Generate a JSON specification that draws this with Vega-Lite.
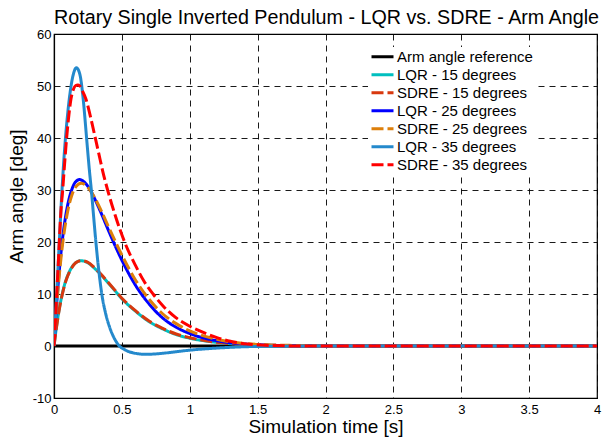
{
  "$schema": "https://vega.github.io/schema/vega-lite/v6.json",
  "width": 543,
  "height": 364,
  "autosize": {"type": "none"},
  "padding": {"left": 54, "top": 34, "right": 5, "bottom": 39},
  "background": "white",
  "title": {
    "text": "Rotary Single Inverted Pendulum - LQR vs. SDRE - Arm Angle",
    "anchor": "middle",
    "frame": "group",
    "dx": 1,
    "offset": 0,
    "font": "Liberation Sans",
    "fontSize": 19.7,
    "fontWeight": "normal",
    "color": "black"
  },
  "config": {
    "view": {"stroke": "black", "strokeWidth": 1.2},
    "axis": {
      "labelFont": "Liberation Sans",
      "labelFontSize": 13,
      "labelColor": "black",
      "titleFont": "Liberation Sans",
      "titleFontSize": 19,
      "titleFontWeight": "normal",
      "titleColor": "black",
      "domainColor": "black",
      "domainWidth": 1.2,
      "ticks": false,
      "labelFlush": false,
      "gridColor": "black",
      "gridDash": [6, 5],
      "gridWidth": 0.9,
      "gridOpacity": 1
    }
  },
  "data": {
    "values": [
      {"s": "Arm angle reference", "t": 0, "v": 0},
      {"s": "Arm angle reference", "t": 4, "v": 0},

      {"s": "LQR - 15 degrees", "t": 0, "v": 0},
      {"s": "LQR - 15 degrees", "t": 0.02, "v": 4.0},
      {"s": "LQR - 15 degrees", "t": 0.04, "v": 7.3},
      {"s": "LQR - 15 degrees", "t": 0.06, "v": 9.9},
      {"s": "LQR - 15 degrees", "t": 0.08, "v": 12.0},
      {"s": "LQR - 15 degrees", "t": 0.1, "v": 13.5},
      {"s": "LQR - 15 degrees", "t": 0.13, "v": 15.1},
      {"s": "LQR - 15 degrees", "t": 0.16, "v": 16.0},
      {"s": "LQR - 15 degrees", "t": 0.2, "v": 16.4},
      {"s": "LQR - 15 degrees", "t": 0.25, "v": 16.0},
      {"s": "LQR - 15 degrees", "t": 0.3, "v": 14.9},
      {"s": "LQR - 15 degrees", "t": 0.35, "v": 13.6},
      {"s": "LQR - 15 degrees", "t": 0.4, "v": 12.1},
      {"s": "LQR - 15 degrees", "t": 0.45, "v": 10.6},
      {"s": "LQR - 15 degrees", "t": 0.5, "v": 9.1},
      {"s": "LQR - 15 degrees", "t": 0.6, "v": 6.7},
      {"s": "LQR - 15 degrees", "t": 0.7, "v": 4.7},
      {"s": "LQR - 15 degrees", "t": 0.8, "v": 3.3},
      {"s": "LQR - 15 degrees", "t": 0.9, "v": 2.2},
      {"s": "LQR - 15 degrees", "t": 1.0, "v": 1.5},
      {"s": "LQR - 15 degrees", "t": 1.2, "v": 0.7},
      {"s": "LQR - 15 degrees", "t": 1.4, "v": 0.3},
      {"s": "LQR - 15 degrees", "t": 1.6, "v": 0.1},
      {"s": "LQR - 15 degrees", "t": 2.0, "v": 0},
      {"s": "LQR - 15 degrees", "t": 4.0, "v": 0},

      {"s": "SDRE - 15 degrees", "t": 0, "v": 0},
      {"s": "SDRE - 15 degrees", "t": 0.02, "v": 3.9},
      {"s": "SDRE - 15 degrees", "t": 0.04, "v": 7.2},
      {"s": "SDRE - 15 degrees", "t": 0.06, "v": 9.8},
      {"s": "SDRE - 15 degrees", "t": 0.08, "v": 11.9},
      {"s": "SDRE - 15 degrees", "t": 0.1, "v": 13.4},
      {"s": "SDRE - 15 degrees", "t": 0.13, "v": 15.0},
      {"s": "SDRE - 15 degrees", "t": 0.16, "v": 16.0},
      {"s": "SDRE - 15 degrees", "t": 0.2, "v": 16.4},
      {"s": "SDRE - 15 degrees", "t": 0.25, "v": 16.1},
      {"s": "SDRE - 15 degrees", "t": 0.3, "v": 15.0},
      {"s": "SDRE - 15 degrees", "t": 0.35, "v": 13.7},
      {"s": "SDRE - 15 degrees", "t": 0.4, "v": 12.2},
      {"s": "SDRE - 15 degrees", "t": 0.45, "v": 10.7},
      {"s": "SDRE - 15 degrees", "t": 0.5, "v": 9.2},
      {"s": "SDRE - 15 degrees", "t": 0.6, "v": 6.8},
      {"s": "SDRE - 15 degrees", "t": 0.7, "v": 4.8},
      {"s": "SDRE - 15 degrees", "t": 0.8, "v": 3.4},
      {"s": "SDRE - 15 degrees", "t": 0.9, "v": 2.3},
      {"s": "SDRE - 15 degrees", "t": 1.0, "v": 1.6},
      {"s": "SDRE - 15 degrees", "t": 1.2, "v": 0.7},
      {"s": "SDRE - 15 degrees", "t": 1.4, "v": 0.3},
      {"s": "SDRE - 15 degrees", "t": 1.6, "v": 0.1},
      {"s": "SDRE - 15 degrees", "t": 2.0, "v": 0},
      {"s": "SDRE - 15 degrees", "t": 4.0, "v": 0},

      {"s": "LQR - 25 degrees", "t": 0, "v": 0},
      {"s": "LQR - 25 degrees", "t": 0.02, "v": 8.2},
      {"s": "LQR - 25 degrees", "t": 0.04, "v": 14.8},
      {"s": "LQR - 25 degrees", "t": 0.06, "v": 20.0},
      {"s": "LQR - 25 degrees", "t": 0.08, "v": 24.0},
      {"s": "LQR - 25 degrees", "t": 0.1, "v": 27.0},
      {"s": "LQR - 25 degrees", "t": 0.13, "v": 30.0},
      {"s": "LQR - 25 degrees", "t": 0.16, "v": 31.6},
      {"s": "LQR - 25 degrees", "t": 0.19, "v": 32.0},
      {"s": "LQR - 25 degrees", "t": 0.22, "v": 31.6},
      {"s": "LQR - 25 degrees", "t": 0.25, "v": 30.7},
      {"s": "LQR - 25 degrees", "t": 0.3, "v": 28.3},
      {"s": "LQR - 25 degrees", "t": 0.35, "v": 25.4},
      {"s": "LQR - 25 degrees", "t": 0.4, "v": 22.3},
      {"s": "LQR - 25 degrees", "t": 0.45, "v": 19.3},
      {"s": "LQR - 25 degrees", "t": 0.5, "v": 16.5},
      {"s": "LQR - 25 degrees", "t": 0.6, "v": 11.7},
      {"s": "LQR - 25 degrees", "t": 0.7, "v": 8.1},
      {"s": "LQR - 25 degrees", "t": 0.8, "v": 5.4},
      {"s": "LQR - 25 degrees", "t": 0.9, "v": 3.6},
      {"s": "LQR - 25 degrees", "t": 1.0, "v": 2.4},
      {"s": "LQR - 25 degrees", "t": 1.2, "v": 1.0},
      {"s": "LQR - 25 degrees", "t": 1.4, "v": 0.4},
      {"s": "LQR - 25 degrees", "t": 1.6, "v": 0.15},
      {"s": "LQR - 25 degrees", "t": 1.8, "v": 0.05},
      {"s": "LQR - 25 degrees", "t": 2.0, "v": 0},
      {"s": "LQR - 25 degrees", "t": 4.0, "v": 0},

      {"s": "SDRE - 25 degrees", "t": 0, "v": 0},
      {"s": "SDRE - 25 degrees", "t": 0.02, "v": 7.7},
      {"s": "SDRE - 25 degrees", "t": 0.04, "v": 13.9},
      {"s": "SDRE - 25 degrees", "t": 0.06, "v": 18.9},
      {"s": "SDRE - 25 degrees", "t": 0.08, "v": 22.8},
      {"s": "SDRE - 25 degrees", "t": 0.1, "v": 25.8},
      {"s": "SDRE - 25 degrees", "t": 0.13, "v": 28.9},
      {"s": "SDRE - 25 degrees", "t": 0.16, "v": 30.6},
      {"s": "SDRE - 25 degrees", "t": 0.2, "v": 31.3},
      {"s": "SDRE - 25 degrees", "t": 0.25, "v": 30.5},
      {"s": "SDRE - 25 degrees", "t": 0.3, "v": 28.5},
      {"s": "SDRE - 25 degrees", "t": 0.35, "v": 25.9},
      {"s": "SDRE - 25 degrees", "t": 0.4, "v": 23.0},
      {"s": "SDRE - 25 degrees", "t": 0.45, "v": 20.2},
      {"s": "SDRE - 25 degrees", "t": 0.5, "v": 17.5},
      {"s": "SDRE - 25 degrees", "t": 0.6, "v": 12.7},
      {"s": "SDRE - 25 degrees", "t": 0.7, "v": 9.0},
      {"s": "SDRE - 25 degrees", "t": 0.8, "v": 6.2},
      {"s": "SDRE - 25 degrees", "t": 0.9, "v": 4.3},
      {"s": "SDRE - 25 degrees", "t": 1.0, "v": 2.9},
      {"s": "SDRE - 25 degrees", "t": 1.2, "v": 1.3},
      {"s": "SDRE - 25 degrees", "t": 1.4, "v": 0.5},
      {"s": "SDRE - 25 degrees", "t": 1.6, "v": 0.2},
      {"s": "SDRE - 25 degrees", "t": 1.8, "v": 0.1},
      {"s": "SDRE - 25 degrees", "t": 2.0, "v": 0},
      {"s": "SDRE - 25 degrees", "t": 4.0, "v": 0},

      {"s": "LQR - 35 degrees", "t": 0, "v": 0},
      {"s": "LQR - 35 degrees", "t": 0.02, "v": 10},
      {"s": "LQR - 35 degrees", "t": 0.04, "v": 20.5},
      {"s": "LQR - 35 degrees", "t": 0.06, "v": 30.5},
      {"s": "LQR - 35 degrees", "t": 0.08, "v": 38.5},
      {"s": "LQR - 35 degrees", "t": 0.1, "v": 44.5},
      {"s": "LQR - 35 degrees", "t": 0.12, "v": 49},
      {"s": "LQR - 35 degrees", "t": 0.14, "v": 52},
      {"s": "LQR - 35 degrees", "t": 0.165, "v": 53.5},
      {"s": "LQR - 35 degrees", "t": 0.19, "v": 52.3},
      {"s": "LQR - 35 degrees", "t": 0.215, "v": 47.5},
      {"s": "LQR - 35 degrees", "t": 0.24, "v": 40},
      {"s": "LQR - 35 degrees", "t": 0.26, "v": 34},
      {"s": "LQR - 35 degrees", "t": 0.275, "v": 30},
      {"s": "LQR - 35 degrees", "t": 0.29, "v": 25.5},
      {"s": "LQR - 35 degrees", "t": 0.305, "v": 21},
      {"s": "LQR - 35 degrees", "t": 0.33, "v": 14.5},
      {"s": "LQR - 35 degrees", "t": 0.355, "v": 9.5},
      {"s": "LQR - 35 degrees", "t": 0.38, "v": 6.3},
      {"s": "LQR - 35 degrees", "t": 0.41, "v": 3.6},
      {"s": "LQR - 35 degrees", "t": 0.44, "v": 1.7},
      {"s": "LQR - 35 degrees", "t": 0.475, "v": 0.2},
      {"s": "LQR - 35 degrees", "t": 0.52, "v": -0.7},
      {"s": "LQR - 35 degrees", "t": 0.58, "v": -1.3},
      {"s": "LQR - 35 degrees", "t": 0.68, "v": -1.6},
      {"s": "LQR - 35 degrees", "t": 0.8, "v": -1.4},
      {"s": "LQR - 35 degrees", "t": 0.9, "v": -1.1},
      {"s": "LQR - 35 degrees", "t": 1.0, "v": -0.8},
      {"s": "LQR - 35 degrees", "t": 1.2, "v": -0.4},
      {"s": "LQR - 35 degrees", "t": 1.4, "v": -0.15},
      {"s": "LQR - 35 degrees", "t": 1.6, "v": -0.05},
      {"s": "LQR - 35 degrees", "t": 2.0, "v": 0},
      {"s": "LQR - 35 degrees", "t": 4.0, "v": 0},

      {"s": "SDRE - 35 degrees", "t": 0, "v": 0},
      {"s": "SDRE - 35 degrees", "t": 0.01, "v": 4.5},
      {"s": "SDRE - 35 degrees", "t": 0.02, "v": 10},
      {"s": "SDRE - 35 degrees", "t": 0.03, "v": 15},
      {"s": "SDRE - 35 degrees", "t": 0.04, "v": 20.5},
      {"s": "SDRE - 35 degrees", "t": 0.05, "v": 25.5},
      {"s": "SDRE - 35 degrees", "t": 0.064, "v": 30},
      {"s": "SDRE - 35 degrees", "t": 0.078, "v": 35},
      {"s": "SDRE - 35 degrees", "t": 0.093, "v": 40},
      {"s": "SDRE - 35 degrees", "t": 0.11, "v": 44.5},
      {"s": "SDRE - 35 degrees", "t": 0.125, "v": 47.5},
      {"s": "SDRE - 35 degrees", "t": 0.142, "v": 49.3},
      {"s": "SDRE - 35 degrees", "t": 0.16, "v": 50.1},
      {"s": "SDRE - 35 degrees", "t": 0.175, "v": 50.2},
      {"s": "SDRE - 35 degrees", "t": 0.19, "v": 50},
      {"s": "SDRE - 35 degrees", "t": 0.21, "v": 49},
      {"s": "SDRE - 35 degrees", "t": 0.235, "v": 47.5},
      {"s": "SDRE - 35 degrees", "t": 0.265, "v": 44.5},
      {"s": "SDRE - 35 degrees", "t": 0.3, "v": 40.5},
      {"s": "SDRE - 35 degrees", "t": 0.33, "v": 37},
      {"s": "SDRE - 35 degrees", "t": 0.36, "v": 33.5},
      {"s": "SDRE - 35 degrees", "t": 0.395, "v": 30},
      {"s": "SDRE - 35 degrees", "t": 0.45, "v": 25.2},
      {"s": "SDRE - 35 degrees", "t": 0.52, "v": 20},
      {"s": "SDRE - 35 degrees", "t": 0.6, "v": 15.5},
      {"s": "SDRE - 35 degrees", "t": 0.66, "v": 12.6},
      {"s": "SDRE - 35 degrees", "t": 0.73, "v": 10},
      {"s": "SDRE - 35 degrees", "t": 0.8, "v": 7.8},
      {"s": "SDRE - 35 degrees", "t": 0.9, "v": 5.4},
      {"s": "SDRE - 35 degrees", "t": 1.0, "v": 3.8},
      {"s": "SDRE - 35 degrees", "t": 1.1, "v": 2.6},
      {"s": "SDRE - 35 degrees", "t": 1.2, "v": 1.6},
      {"s": "SDRE - 35 degrees", "t": 1.3, "v": 0.9},
      {"s": "SDRE - 35 degrees", "t": 1.42, "v": 0.4},
      {"s": "SDRE - 35 degrees", "t": 1.6, "v": 0.1},
      {"s": "SDRE - 35 degrees", "t": 1.8, "v": 0},
      {"s": "SDRE - 35 degrees", "t": 4.0, "v": 0}
    ]
  },
  "mark": {"type": "line", "strokeWidth": 3, "interpolate": "monotone", "clip": true},
  "encoding": {
    "x": {
      "field": "t",
      "type": "quantitative",
      "scale": {"domain": [0, 4], "nice": false, "zero": false},
      "axis": {
        "title": "Simulation time [s]",
        "values": [0, 0.5, 1, 1.5, 2, 2.5, 3, 3.5, 4],
        "format": "~g",
        "labelPadding": 5,
        "titlePadding": 1
      }
    },
    "y": {
      "field": "v",
      "type": "quantitative",
      "scale": {"domain": [-10, 60], "nice": false, "zero": false},
      "axis": {
        "title": "Arm angle [deg]",
        "values": [-10, 0, 10, 20, 30, 40, 50, 60],
        "labelExpr": "replace(datum.label, '\u2212', '-')",
        "labelPadding": 3,
        "titlePadding": 6,
        "titleY": 162
      }
    },
    "color": {
      "field": "s",
      "type": "nominal",
      "scale": {
        "domain": ["Arm angle reference", "LQR - 15 degrees", "SDRE - 15 degrees", "LQR - 25 degrees", "SDRE - 25 degrees", "LQR - 35 degrees", "SDRE - 35 degrees"],
        "range": ["#000000", "#00bfbf", "#d8380e", "#0000ff", "#dd7f0b", "#2489cc", "#ff0000"]
      },
      "legend": {
        "title": null,
        "orient": "none",
        "legendX": 314,
        "legendY": 13,
        "padding": 2,
        "fillColor": "white",
        "symbolType": "stroke",
        "symbolSize": 484,
        "symbolStrokeWidth": 3,
        "labelFont": "Liberation Sans",
        "labelFontSize": 15,
        "labelColor": "black",
        "labelOffset": 2,
        "clipHeight": 15.7,
        "rowPadding": 2
      }
    },
    "strokeDash": {
      "field": "s",
      "type": "nominal",
      "scale": {
        "domain": ["Arm angle reference", "LQR - 15 degrees", "SDRE - 15 degrees", "LQR - 25 degrees", "SDRE - 25 degrees", "LQR - 35 degrees", "SDRE - 35 degrees"],
        "range": [[1, 0], [1, 0], [12, 4], [1, 0], [12, 4], [1, 0], [12, 4]]
      }
    }
  }
}
